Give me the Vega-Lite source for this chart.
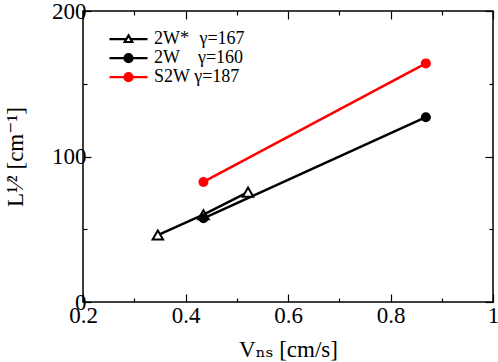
{
  "$schema": "https://vega.github.io/schema/vega-lite/v6.json",
  "width": 410,
  "height": 291,
  "autosize": {"type": "none"},
  "padding": {"left": 83, "top": 11, "right": 5, "bottom": 60},
  "background": "white",
  "config": {
    "font": "Liberation Serif",
    "view": {"stroke": "black", "strokeWidth": 1.5},
    "axis": {
      "grid": false,
      "domain": false,
      "labelFont": "Liberation Serif",
      "labelFontSize": 23,
      "labelColor": "black",
      "labelFlush": false,
      "labelOverlap": false,
      "titleFont": "Liberation Serif, DejaVu Serif",
      "titleFontSize": 23,
      "titleFontWeight": "normal",
      "titleColor": "black",
      "tickColor": "black",
      "tickWidth": 1.2
    },
    "legend": {
      "padding": 0,
      "symbolSize": 1444,
      "symbolOpacity": 1,
      "symbolStrokeWidth": 2.2,
      "labelFont": "Liberation Serif",
      "labelFontSize": 18,
      "labelColor": "black",
      "labelOffset": 5,
      "labelLimit": 300,
      "clipHeight": 18.3,
      "rowPadding": 0
    }
  },
  "data": {
    "values": [
      {"series": "2W*", "v": 0.346, "L": 46},
      {"series": "2W*", "v": 0.435, "L": 60},
      {"series": "2W*", "v": 0.522, "L": 75.5},
      {"series": "2W", "v": 0.435, "L": 57.5},
      {"series": "2W", "v": 0.869, "L": 127},
      {"series": "S2W", "v": 0.435, "L": 82.5},
      {"series": "S2W", "v": 0.869, "L": 164}
    ]
  },
  "resolve": {"axis": {"x": "independent", "y": "independent"}},
  "layer": [
    {
      "mark": {"type": "line", "strokeWidth": 2.5},
      "encoding": {
        "x": {
          "field": "v", "type": "quantitative",
          "scale": {"domain": [0.2, 1], "nice": false, "zero": false},
          "axis": {
            "orient": "bottom",
            "values": [0.2, 0.3, 0.4, 0.5, 0.6, 0.7, 0.8, 0.9, 1.0],
            "labelExpr": "round(datum.value*10) % 2 == 0 ? (datum.value == 1 ? '1' : format(datum.value, '.1f')) : ''",
            "tickSize": {"condition": {"test": "round(datum.value*10) % 2 == 0", "value": -8}, "value": -4},
            "labelPadding": 10,
            "title": "Vₙₛ [cm/s]",
            "titlePadding": 7
          }
        },
        "y": {
          "field": "L", "type": "quantitative",
          "scale": {"domain": [0, 200], "nice": false},
          "axis": {
            "orient": "left",
            "values": [0, 50, 100, 150, 200],
            "labelExpr": "datum.value % 100 == 0 ? datum.label : ''",
            "tickSize": {"condition": {"test": "datum.value % 100 == 0", "value": -8}, "value": -4},
            "labelPadding": 5,
            "title": "L¹⁄² [cm⁻¹]",
            "titlePadding": 24
          }
        },
        "color": {
          "field": "series", "type": "nominal",
          "scale": {"range": ["black", "black", "red"]},
          "legend": null
        }
      }
    },
    {
      "transform": [{"filter": "datum.series == '2W*'"}],
      "mark": {"type": "point", "shape": "triangle-up", "size": 110, "filled": false, "fill": "white", "fillOpacity": 1, "stroke": "black", "strokeWidth": 2, "opacity": 1},
      "encoding": {
        "x": {
          "field": "v", "type": "quantitative",
          "axis": {
            "orient": "top",
            "values": [0.2, 0.3, 0.4, 0.5, 0.6, 0.7, 0.8, 0.9, 1.0],
            "labels": false,
            "title": null,
            "tickSize": {"condition": {"test": "round(datum.value*10) % 2 == 0", "value": -8}, "value": -4}
          }
        },
        "y": {
          "field": "L", "type": "quantitative",
          "axis": {
            "orient": "right",
            "values": [0, 50, 100, 150, 200],
            "labels": false,
            "title": null,
            "tickSize": {"condition": {"test": "datum.value % 100 == 0", "value": -8}, "value": -4}
          }
        }
      }
    },
    {
      "transform": [{"filter": "datum.series != '2W*'"}],
      "mark": {"type": "circle", "size": 100, "opacity": 1},
      "encoding": {
        "x": {"field": "v", "type": "quantitative", "axis": null},
        "y": {"field": "L", "type": "quantitative", "axis": null},
        "color": {"field": "series", "type": "nominal", "legend": null}
      }
    },
    {
      "mark": {"type": "point", "opacity": 0, "strokeWidth": 2.2},
      "encoding": {
        "x": {"field": "v", "type": "quantitative", "axis": null},
        "y": {"field": "L", "type": "quantitative", "axis": null},
        "shape": {
          "field": "series", "type": "nominal", "title": null,
          "scale": {
            "domain": ["2W*", "2W", "S2W"],
            "range": [
              "M-1,0H-0.114M0.114,0H1M0,-0.2L0.2,0.15L-0.2,0.15Z",
              "M-1,0H1M0.21,0A0.21,0.21,0,1,1,-0.21,0A0.21,0.21,0,1,1,0.21,0Z",
              "M-1,0H1M0.21,0A0.21,0.21,0,1,1,-0.21,0A0.21,0.21,0,1,1,0.21,0Z"
            ]
          },
          "legend": {"orient": "none", "legendX": 25, "legendY": 19, "labelExpr": "datum.label == '2W*' ? '2W*\u00a0\u200a γ=167' : datum.label == '2W' ? '2W\u00a0\u00a0\u00a0 γ=160' : 'S2W γ=187'"}
        },
        "stroke": {
          "field": "series", "type": "nominal", "title": null,
          "scale": {"domain": ["2W*", "2W", "S2W"], "range": ["black", "black", "red"]},
          "legend": {"orient": "none", "legendX": 25, "legendY": 19, "labelExpr": "datum.label == '2W*' ? '2W*\u00a0\u200a γ=167' : datum.label == '2W' ? '2W\u00a0\u00a0\u00a0 γ=160' : 'S2W γ=187'"}
        },
        "fill": {
          "field": "series", "type": "nominal", "title": null,
          "scale": {"domain": ["2W*", "2W", "S2W"], "range": ["white", "black", "red"]},
          "legend": {"orient": "none", "legendX": 25, "legendY": 19, "labelExpr": "datum.label == '2W*' ? '2W*\u00a0\u200a γ=167' : datum.label == '2W' ? '2W\u00a0\u00a0\u00a0 γ=160' : 'S2W γ=187'"}
        }
      }
    }
  ]
}
